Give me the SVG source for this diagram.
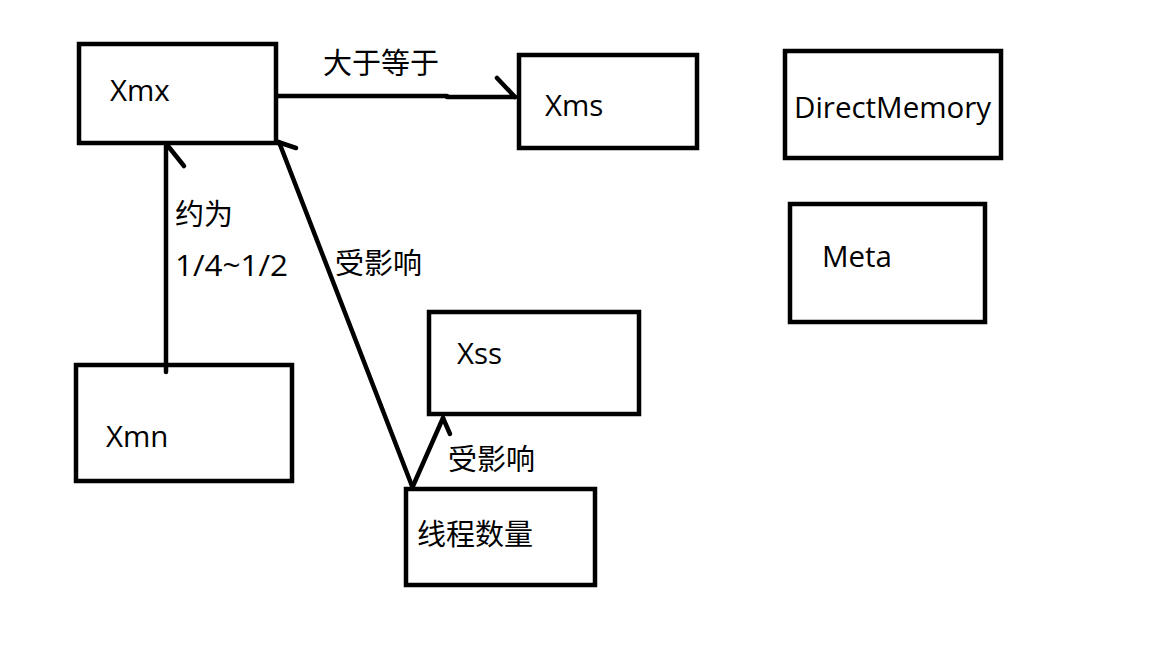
<svg xmlns="http://www.w3.org/2000/svg" width="1152" height="648" viewBox="0 0 1152 648">
<style>
.box{fill:none;stroke:#000;stroke-width:4.5}
.ln{fill:none;stroke:#000;stroke-width:4.5;stroke-linecap:round;stroke-linejoin:round}
.t{font-family:"Open Sans","Noto Sans","Noto Sans CJK SC",sans-serif;font-size:29.5px;fill:#000}
.c{font-family:"Noto Sans CJK SC","Noto Sans",sans-serif;font-size:29px;fill:#000}
</style>
<rect width="1152" height="648" fill="#fff"/>
<g id="connectors">
<path class="ln" d="M278 96 H447 V97 H515"/>
<path class="ln" d="M497 78 L515 97"/>
<path class="ln" d="M166 372 V146"/>
<path class="ln" d="M168 146 L184 166"/>
<path class="ln" d="M412 486 L279 142"/>
<path class="ln" d="M278 142 L296 148"/>
<path class="ln" d="M413 486 L443 418"/>
<path class="ln" d="M443 418 L450 434"/>
<text class="c" x="323" y="74">大于等于</text>
<text class="c" x="175" y="225">约为</text>
<text class="t" x="175" y="276" textLength="113" lengthAdjust="spacingAndGlyphs">1/4~1/2</text>
<text class="c" x="335" y="274">受影响</text>
<text class="c" x="448" y="470">受影响</text>
</g>
<g id="xmx"><rect class="box" x="79" y="44" width="197" height="99"/><text class="t" x="110" y="101">Xmx</text></g>
<g id="xms"><rect class="box" x="519" y="55" width="178" height="93"/><text class="t" x="545" y="116">Xms</text></g>
<g id="directmemory"><rect class="box" x="785" y="51" width="216" height="107"/><text class="t" x="794" y="118">DirectMemory</text></g>
<g id="meta"><rect class="box" x="790" y="204" width="195" height="118"/><text class="t" x="822" y="267">Meta</text></g>
<g id="xss"><rect class="box" x="429" y="312" width="210" height="102"/><text class="t" x="457" y="364">Xss</text></g>
<g id="xmn"><rect class="box" x="76" y="365" width="216" height="116"/><text class="t" x="106" y="447">Xmn</text></g>
<g id="threads"><rect class="box" x="406" y="489" width="189" height="96"/><text class="c" x="417" y="545">线程数量</text></g>
</svg>
